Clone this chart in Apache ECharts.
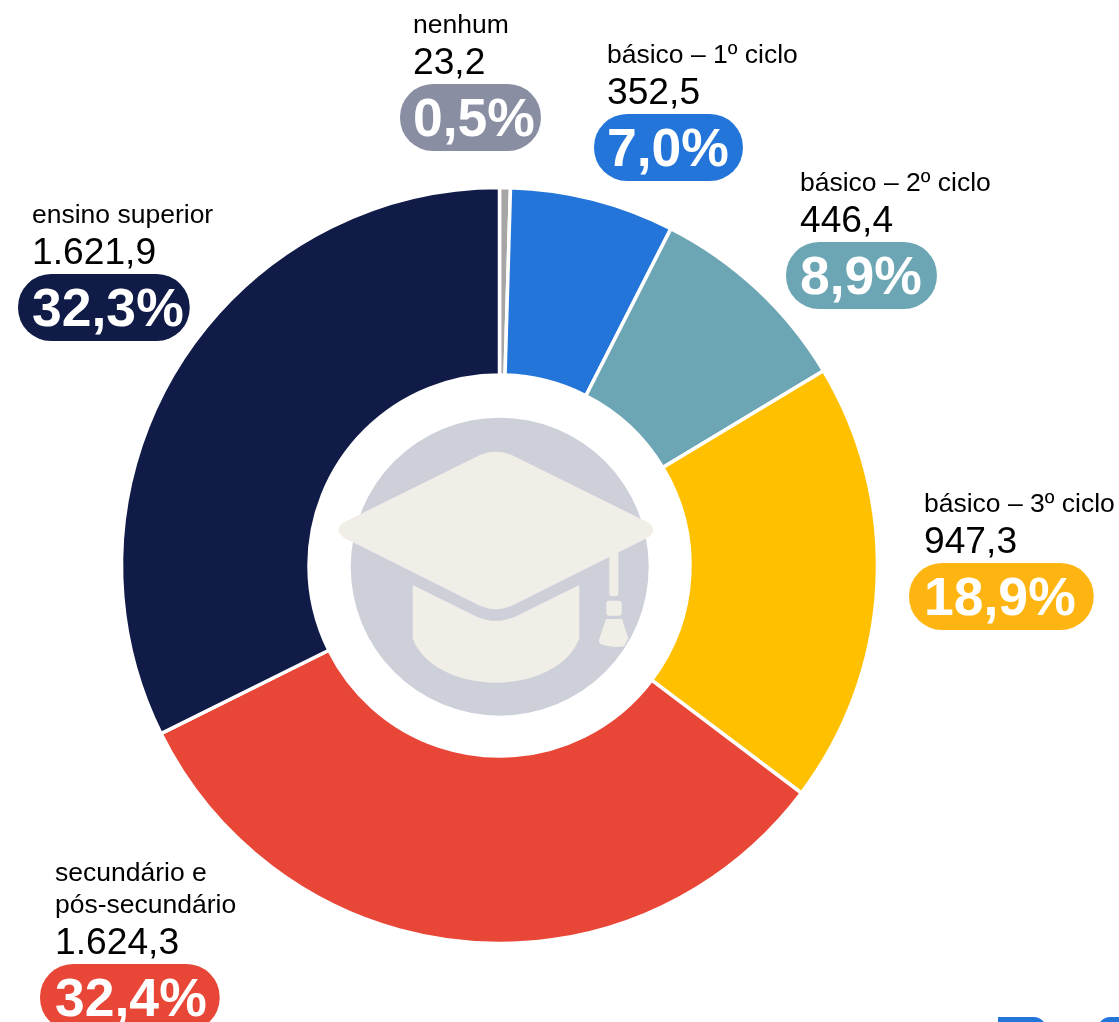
<!DOCTYPE html>
<html>
<head>
<meta charset="utf-8">
<style>
  html, body { margin: 0; padding: 0; background: #fff; }
  #chart { width: 1119px; height: 1022px; }
</style>
</head>
<body>
<div id="chart"></div>
<script src="https://cdn.jsdelivr.net/npm/echarts@6/dist/echarts.min.js"></script>
<script>
  const categories = ['nenhum', 'básico – 1º ciclo', 'básico – 2º ciclo', 'básico – 3º ciclo', 'secundário e\npós-secundário', 'ensino superior']
  const seriesValues = [23.2, 352.5, 446.4, 947.3, 1624.3, 1621.9]
  const valueLabels = ['23,2', '352,5', '446,4', '947,3', '1.624,3', '1.621,9']
  const percentLabels = ['0,5%', '7,0%', '8,9%', '18,9%', '32,4%', '32,3%']

  const sliceColors = ['#a6a6a6', '#2375d9', '#6ca5b4', '#ffc000', '#e84637', '#111b47']
  const pillColors = ['#8a8ea3', '#2375d9', '#6ca5b4', '#ffb511', '#e84637', '#111b47']

  const labelFont = '"Liberation Sans", Arial, sans-serif'

  // label box: left/top of the label, then left/right padding inside the pill
  const labelBoxes = [
    [400, 8, 13, 6],
    [594, 38, 13, 14],
    [786, 166, 14, 15],
    [909, 487, 15, 18],
    [40, 856, 15, 13],
    [18, 198, 14, 6]
  ]

  const capTop = 'M480 455 Q495.7 448.3 511.7 455 L646.7 521.7 Q660 530 646.7 538.3 L513.3 605 Q495.7 613.3 478.3 605 L345 538.3 Q331.7 530 345 521.7 Z'
  const capBase = 'M412.7 585 L476.7 616.7 Q495.7 625 515 616.7 L579.3 585 L579.3 638.3 C570 665 535 682.7 496 682.7 C457 682.7 422 665 412.7 638.3 Z'
  const tassel = 'M606 619 L622 619 L628.3 638 L624 646 Q612 648 601 644 Q598 642 599.5 638 Z'

  function iconPath(pathData, x, y, width, height) {
    return {
      type: 'path',
      shape: { pathData, x, y, width, height, layout: 'cover' },
      style: { fill: '#f1eee7' }
    }
  }

  const myChart = echarts.init(document.getElementById('chart'), null, { renderer: 'canvas' })

  const richStyles = {
    name: { fontSize: 26.5, lineHeight: 32, color: '#000', fontFamily: labelFont },
    value: { fontSize: 37.2, lineHeight: 44, color: '#000', fontFamily: labelFont }
  }

  const pieData = categories.map((name, i) => {
    const [, , padL, padR] = labelBoxes[i]
    const rich = {
      n: { ...richStyles.name, padding: [4, 0, 0, padL] },
      v: { ...richStyles.value, padding: [4, 0, 0, padL] },
      p: {
        fontSize: 53.5,
        fontWeight: 'bold',
        fontFamily: labelFont,
        color: '#fff',
        lineHeight: 67,
        height: 59,
        backgroundColor: pillColors[i],
        borderRadius: 33,
        padding: [8, padR, 0, padL]
      }
    }
    const nameLines = name.split('\n').map(s => `{n|${s}}`).join('\n')
    return {
      name,
      value: seriesValues[i],
      itemStyle: { color: sliceColors[i] },
      label: {
        formatter: `${nameLines}\n{v|${valueLabels[i]}}\n{p|${percentLabels[i]}}`,
        rich
      }
    }
  })

  const option = {
    animation: false,
    backgroundColor: '#fff',
    // bits of the next chart that get cut off at the bottom edge
    graphic: [
      { type: 'rect', shape: { x: 998, y: 1017, width: 48, height: 20, r: [0, 12, 0, 0] }, style: { fill: '#2375d9' } },
      { type: 'rect', shape: { x: 1098, y: 1017, width: 40, height: 20, r: [12, 0, 0, 0] }, style: { fill: '#2375d9' } }
    ],
    series: [
      {
        type: 'custom',
        coordinateSystem: 'none',
        silent: true,
        data: [0],
        renderItem() {
          return {
            type: 'group',
            children: [
              { type: 'circle', shape: { cx: 499.7, cy: 566.7, r: 149 }, style: { fill: '#cdd0d9' } },
              iconPath(capTop, 338.35, 451.65, 315, 157.5),
              iconPath(capBase, 412.7, 585, 166.6, 97.7),
              { type: 'rect', shape: { x: 609.3, y: 550, width: 9, height: 46, r: 2 }, style: { fill: '#f1eee7' } },
              { type: 'rect', shape: { x: 606.3, y: 600.7, width: 15.4, height: 15, r: 3 }, style: { fill: '#f1eee7' } },
              iconPath(tassel, 599, 619, 29.3, 28)
            ]
          }
        }
      },
      {
        type: 'pie',
        center: [499.5, 565.5],
        radius: [190.5, 378],
        startAngle: 90,
        clockwise: true,
        avoidLabelOverlap: false,
        silent: true,
        itemStyle: { borderColor: '#fff', borderWidth: 3.5 },
        label: { show: true, position: 'outside', align: 'left' },
        labelLine: { show: false },
        labelLayout(params) {
          const box = labelBoxes[params.dataIndex]
          return { x: box[0], y: box[1], align: 'left', verticalAlign: 'top', hideOverlap: false }
        },
        data: pieData
      }
    ]
  }

  myChart.setOption(option)
</script>
</body>
</html>
